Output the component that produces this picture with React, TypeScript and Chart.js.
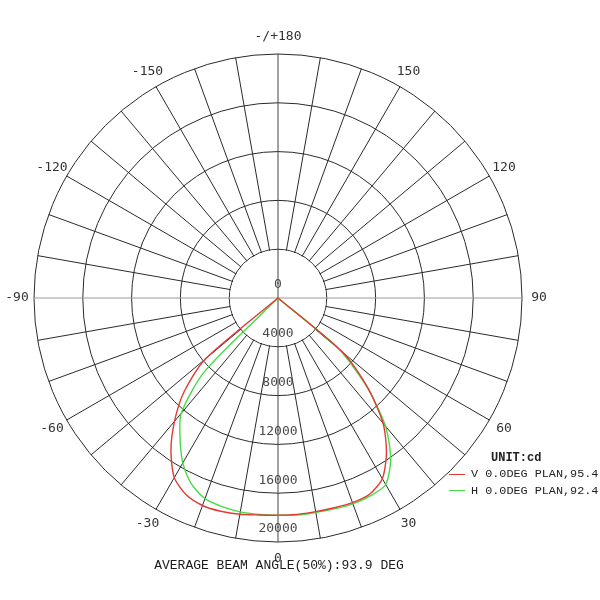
import { useEffect, useRef } from 'react';
import { Chart, registerables } from 'chart.js';

Chart.register(...registerables);

// dial categories, clockwise from the top (180) every 5 deg
const dialAngles = Array.from({ length: 72 }, (_, i) => 180 - 5 * i);

// measured gamma angles of the two C-planes
const planeAngles = [
  -90, -85, -80, -75, -70, -65, -60, -55, -50, -45, -40, -35, -30, -25, -20, -15, -10, -5,
  0, 5, 10, 15, 20, 25, 30, 35, 40, 45, 50, 55, 60, 65, 70, 75, 80, 85, 90,
];
const vPlane = [
  0, 0, 0, 0, 0, 0, 0, 0, 7800, 10900, 13200, 15300, 17000, 17800, 18100, 18100, 18000, 17850,
  17800, 17800, 17780, 17800, 17850, 17750, 17100, 15500, 13400, 10400, 7000, 0, 0, 0, 0, 0, 0, 0, 0,
];
const hPlane = [
  0, 0, 0, 0, 0, 0, 0, 0, 0, 8500, 12350, 14000, 15600, 16800, 17500, 17700, 17800, 17800,
  17800, 17850, 17850, 17900, 17950, 17900, 17650, 16100, 13700, 10300, 6500, 0, 0, 0, 0, 0, 0, 0, 0,
];

const seriesNames = ['V 0.0DEG PLAN,95.4', 'H 0.0DEG PLAN,92.4'];
const seriesColors = ['#e03a32', '#45dc45'];

const GRID = '#2a2a2a';
const V_AXIS = '#444';
const H_AXIS = '#9a9a9a';

const onDial = (series: number[]) =>
  dialAngles.map(a => {
    const k = planeAngles.indexOf(a);
    return k >= 0 ? series[k] : 0;
  });

const polarDecor = {
  id: 'polarDecor',
  beforeDatasetsDraw(chart: any) {
    const s = chart.scales.r;
    const ctx = chart.ctx;
    const cx = s.xCenter;
    const cy = s.yCenter;
    const R = s.drawingArea;
    const hub = s.getDistanceFromCenterForValue(4000);
    ctx.save();
    // clear the hub so only the axes cross it
    ctx.fillStyle = '#fff';
    ctx.beginPath();
    ctx.arc(cx, cy, hub - 0.8, 0, Math.PI * 2);
    ctx.fill();
    ctx.lineWidth = 1;
    ctx.strokeStyle = H_AXIS;
    ctx.beginPath();
    ctx.moveTo(cx - hub, cy);
    ctx.lineTo(cx + hub, cy);
    ctx.stroke();
    ctx.strokeStyle = V_AXIS;
    ctx.beginPath();
    ctx.moveTo(cx, cy - hub);
    ctx.lineTo(cx, cy + hub);
    ctx.stroke();

    ctx.font = '13px "DejaVu Sans Mono"';
    ctx.textAlign = 'center';
    ctx.textBaseline = 'middle';
    ctx.fillStyle = '#4a4a4a';
    s.ticks.forEach((t: any) => {
      ctx.fillText(String(t.value), cx, cy + s.getDistanceFromCenterForValue(t.value) - 13);
    });
    ctx.fillStyle = '#333';
    dialAngles.forEach((a, i) => {
      if (a % 30 !== 0) return;
      const p = s.getPointPosition(i, R + 17);
      ctx.fillText(a === 180 ? '-/+180' : String(a), p.x, p.y);
    });
    ctx.restore();
  },
};

export default function App() {
  const canvasRef = useRef<HTMLCanvasElement>(null);
  const chartRef = useRef<Chart | null>(null);

  useEffect(() => {
    if (!canvasRef.current) return;
    if (chartRef.current) chartRef.current.destroy();

    chartRef.current = new Chart(canvasRef.current, {
      type: 'radar',
      data: {
        labels: dialAngles,
        datasets: [vPlane, hPlane].map((series, i) => ({
          label: seriesNames[i],
          data: onDial(series),
          borderColor: seriesColors[i],
          borderWidth: 1.4,
          fill: false,
          pointRadius: 0,
          tension: 0.25,
        })),
      },
      options: {
        animation: false,
        responsive: true,
        maintainAspectRatio: false,
        layout: { padding: { left: 34, right: 78, top: 54, bottom: 58 } },
        plugins: {
          legend: { display: false },
          tooltip: { enabled: false },
        },
        scales: {
          r: {
            min: 0,
            max: 20000,
            beginAtZero: true,
            ticks: { display: false, stepSize: 4000 },
            pointLabels: { display: false },
            grid: { circular: true, color: GRID, lineWidth: 1 },
            angleLines: {
              color: (c: any) => {
                const a = dialAngles[c.index];
                if (a % 90 === 0) return a % 180 === 0 ? V_AXIS : H_AXIS;
                return GRID;
              },
              lineWidth: (c: any) => (dialAngles[c.index] % 10 === 0 ? 1 : 0),
            },
          },
        },
      },
      plugins: [polarDecor],
    });

    return () => {
      if (chartRef.current) {
        chartRef.current.destroy();
        chartRef.current = null;
      }
    };
  }, []);

  const mono = '"Liberation Mono", "DejaVu Sans Mono", monospace';

  return (
    <div style={{ position: 'fixed', left: 0, top: 0, width: 600, height: 600, background: '#fff' }}>
      <canvas ref={canvasRef}></canvas>
      <div
        style={{
          position: 'absolute', left: 0, width: 558, top: 558, lineHeight: '14px',
          textAlign: 'center', font: `13px ${mono}`, color: '#1a1a1a', whiteSpace: 'nowrap',
        }}
      >
        AVERAGE BEAM ANGLE(50%):93.9 DEG
      </div>
      <div
        style={{
          position: 'absolute', left: 491, top: 451, lineHeight: '14px',
          font: `bold 12px ${mono}`, color: '#222',
        }}
      >
        UNIT:cd
      </div>
      {seriesNames.map((name, i) => (
        <div
          key={name}
          style={{
            position: 'absolute', left: 449, top: 467 + i * 16.5, lineHeight: '14px',
            font: `11.8px ${mono}`, color: '#222', whiteSpace: 'nowrap',
            display: 'flex', alignItems: 'center',
          }}
        >
          <span style={{ display: 'inline-block', width: 16, height: 0, borderTop: `1.3px solid ${seriesColors[i]}`, marginRight: 6 }} />
          {name}
        </div>
      ))}
    </div>
  );
}
